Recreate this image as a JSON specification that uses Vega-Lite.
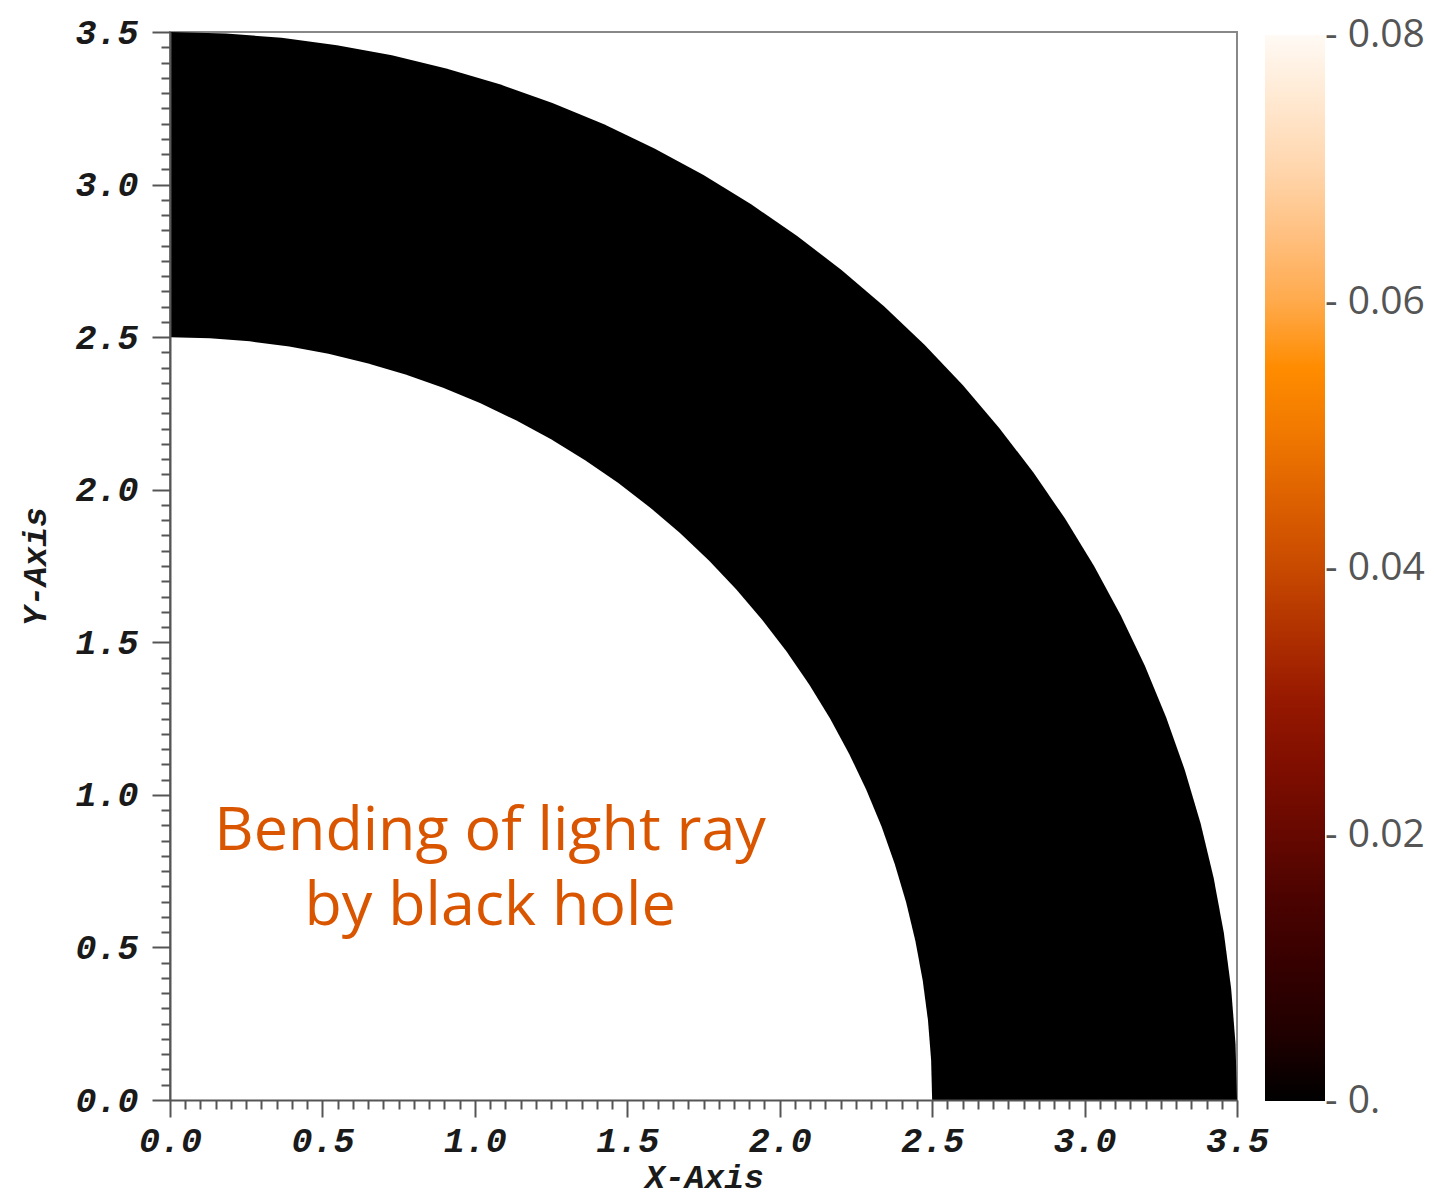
{
  "$schema": "https://vega.github.io/schema/vega-lite/v6.json",
  "autosize": "none",
  "padding": {"left": 170, "top": 32, "right": 197, "bottom": 97},
  "width": 1067,
  "height": 1068,
  "background": "white",
  "config": {
    "view": {"stroke": "#888888", "strokeWidth": 2},
    "axis": {
      "labelFont": "Liberation Mono",
      "labelFontWeight": "bold",
      "labelFontStyle": "italic",
      "labelFontSize": 35,
      "labelColor": "#1a1a1a",
      "labelFlush": false,
      "titleFont": "Liberation Mono",
      "titleFontWeight": "bold",
      "titleFontStyle": "italic",
      "titleFontSize": 33,
      "titleColor": "#1a1a1a",
      "tickColor": "#555555",
      "tickWidth": 2,
      "domainColor": "#555555",
      "domainWidth": 2,
      "grid": false
    }
  },
  "datasets": {
    "outer": [
      {"x": 0, "y": 3.5, "v": 0}, {"x": 0.1832, "y": 3.4952, "v": 0}, {"x": 0.3658, "y": 3.4808, "v": 0},
      {"x": 0.5475, "y": 3.4569, "v": 0}, {"x": 0.7277, "y": 3.4235, "v": 0}, {"x": 0.9059, "y": 3.3807, "v": 0},
      {"x": 1.0816, "y": 3.3287, "v": 0}, {"x": 1.2543, "y": 3.2675, "v": 0}, {"x": 1.4236, "y": 3.1974, "v": 0},
      {"x": 1.589, "y": 3.1185, "v": 0}, {"x": 1.75, "y": 3.0311, "v": 0}, {"x": 1.9062, "y": 2.9354, "v": 0},
      {"x": 2.0572, "y": 2.8316, "v": 0}, {"x": 2.2026, "y": 2.72, "v": 0}, {"x": 2.342, "y": 2.601, "v": 0},
      {"x": 2.4749, "y": 2.4749, "v": 0}, {"x": 2.601, "y": 2.342, "v": 0}, {"x": 2.72, "y": 2.2026, "v": 0},
      {"x": 2.8316, "y": 2.0572, "v": 0}, {"x": 2.9354, "y": 1.9062, "v": 0}, {"x": 3.0311, "y": 1.75, "v": 0},
      {"x": 3.1185, "y": 1.589, "v": 0}, {"x": 3.1974, "y": 1.4236, "v": 0}, {"x": 3.2675, "y": 1.2543, "v": 0},
      {"x": 3.3287, "y": 1.0816, "v": 0}, {"x": 3.3807, "y": 0.9059, "v": 0}, {"x": 3.4235, "y": 0.7277, "v": 0},
      {"x": 3.4569, "y": 0.5475, "v": 0}, {"x": 3.4808, "y": 0.3658, "v": 0}, {"x": 3.4952, "y": 0.1832, "v": 0},
      {"x": 3.5, "y": 0, "v": 0}
    ],
    "inner": [
      {"x": 0, "y": 2.5}, {"x": 0.1308, "y": 2.4966}, {"x": 0.2613, "y": 2.4863}, {"x": 0.3911, "y": 2.4692},
      {"x": 0.5198, "y": 2.4454}, {"x": 0.647, "y": 2.4148}, {"x": 0.7725, "y": 2.3776}, {"x": 0.8959, "y": 2.334},
      {"x": 1.0168, "y": 2.2839}, {"x": 1.135, "y": 2.2275}, {"x": 1.25, "y": 2.1651}, {"x": 1.3616, "y": 2.0967},
      {"x": 1.4695, "y": 2.0225}, {"x": 1.5733, "y": 1.9429}, {"x": 1.6728, "y": 1.8578}, {"x": 1.7678, "y": 1.7678},
      {"x": 1.8578, "y": 1.6728}, {"x": 1.9429, "y": 1.5733}, {"x": 2.0225, "y": 1.4695}, {"x": 2.0967, "y": 1.3616},
      {"x": 2.1651, "y": 1.25}, {"x": 2.2275, "y": 1.135}, {"x": 2.2839, "y": 1.0168}, {"x": 2.334, "y": 0.8959},
      {"x": 2.3776, "y": 0.7725}, {"x": 2.4148, "y": 0.647}, {"x": 2.4454, "y": 0.5198}, {"x": 2.4692, "y": 0.3911},
      {"x": 2.4863, "y": 0.2613}, {"x": 2.4966, "y": 0.1308}, {"x": 2.5, "y": 0}
    ],
    "note": [
      {"x": 1.05, "y": 0.82, "label": "Bending of light ray\nby black hole"}
    ]
  },
  "layer": [
    {
      "data": {"name": "outer"},
      "mark": {"type": "area", "interpolate": "linear"},
      "encoding": {
        "x": {
          "field": "x", "type": "quantitative",
          "scale": {"domain": [0, 3.5], "nice": false, "zero": false},
          "axis": {
            "values": [0, 0.5, 1, 1.5, 2, 2.5, 3, 3.5],
            "format": ".1f",
            "tickSize": 17,
            "labelPadding": 6,
            "title": "X-Axis",
            "titleX": 534,
            "titleY": 77,
            "titleBaseline": "middle",
            "titleAlign": "center",
            "zindex": 1
          }
        },
        "y": {
          "field": "y", "type": "quantitative",
          "scale": {"domain": [0, 3.5], "nice": false, "zero": false},
          "axis": {
            "values": [0, 0.5, 1, 1.5, 2, 2.5, 3, 3.5],
            "format": ".1f",
            "tickSize": 18,
            "labelPadding": 14,
            "title": "Y-Axis",
            "titleX": -135,
            "titleY": 534,
            "titleAngle": -90,
            "titleBaseline": "middle",
            "titleAlign": "center",
            "zindex": 1
          }
        },
        "color": {
          "field": "v", "type": "quantitative",
          "scale": {
            "type": "linear",
            "domain": [0, 0.005, 0.01, 0.015, 0.02, 0.025, 0.03, 0.035, 0.04, 0.045, 0.05, 0.055, 0.06, 0.065, 0.07, 0.075, 0.08],
            "range": ["#000000", "#200000", "#350000", "#4a0300", "#660800", "#7f0e00", "#961800", "#b03000", "#c84a00", "#dd6000", "#f07800", "#ff8c00", "#ffaa4c", "#ffc080", "#ffd6ad", "#ffe8d0", "#fffaf5"],
            "interpolate": "rgb"
          },
          "legend": {
            "type": "gradient",
            "direction": "vertical",
            "orient": "none",
            "legendX": 1095,
            "legendY": 3,
            "padding": 0,
            "title": null,
            "gradientLength": 1066,
            "gradientThickness": 60,
            "gradientStrokeWidth": 0,
            "values": [0, 0.02, 0.04, 0.06, 0.08],
            "labelExpr": "'- ' + (datum.value == 0 ? '0.' : format(datum.value, '.2f'))",
            "labelFont": "Open Sans",
            "labelFontSize": 39,
            "labelColor": "#555555",
            "labelOffset": 0,
            "labelBaseline": "middle",
            "labelOverlap": false,
            "encode": {
              "labels": {"update": {"baseline": {"value": "middle"}}}
            }
          }
        }
      }
    },
    {
      "data": {"name": "inner"},
      "mark": {"type": "area", "fill": "white", "interpolate": "linear"},
      "encoding": {
        "x": {"field": "x", "type": "quantitative", "axis": null},
        "y": {"field": "y", "type": "quantitative", "axis": null}
      }
    },
    {
      "data": {"name": "note"},
      "mark": {"type": "text", "font": "Open Sans", "fontSize": 61, "color": "#d95500", "align": "center", "baseline": "alphabetic", "lineBreak": "\n", "lineHeight": 75},
      "encoding": {
        "x": {
          "field": "x", "type": "quantitative",
          "axis": {
            "orient": "bottom",
            "values": [0.05, 0.1, 0.15, 0.2, 0.25, 0.3, 0.35, 0.4, 0.45, 0.55, 0.6, 0.65, 0.7, 0.75, 0.8, 0.85, 0.9, 0.95, 1.05, 1.1, 1.15, 1.2, 1.25, 1.3, 1.35, 1.4, 1.45, 1.55, 1.6, 1.65, 1.7, 1.75, 1.8, 1.85, 1.9, 1.95, 2.05, 2.1, 2.15, 2.2, 2.25, 2.3, 2.35, 2.4, 2.45, 2.55, 2.6, 2.65, 2.7, 2.75, 2.8, 2.85, 2.9, 2.95, 3.05, 3.1, 3.15, 3.2, 3.25, 3.3, 3.35, 3.4, 3.45],
            "tickSize": 9,
            "labels": false,
            "domain": false,
            "title": null,
            "zindex": 1
          }
        },
        "y": {
          "field": "y", "type": "quantitative",
          "axis": {
            "orient": "left",
            "values": [0.05, 0.1, 0.15, 0.2, 0.25, 0.3, 0.35, 0.4, 0.45, 0.55, 0.6, 0.65, 0.7, 0.75, 0.8, 0.85, 0.9, 0.95, 1.05, 1.1, 1.15, 1.2, 1.25, 1.3, 1.35, 1.4, 1.45, 1.55, 1.6, 1.65, 1.7, 1.75, 1.8, 1.85, 1.9, 1.95, 2.05, 2.1, 2.15, 2.2, 2.25, 2.3, 2.35, 2.4, 2.45, 2.55, 2.6, 2.65, 2.7, 2.75, 2.8, 2.85, 2.9, 2.95, 3.05, 3.1, 3.15, 3.2, 3.25, 3.3, 3.35, 3.4, 3.45],
            "tickSize": 9,
            "labels": false,
            "domain": false,
            "title": null,
            "zindex": 1
          }
        },
        "text": {"field": "label", "type": "nominal"}
      }
    }
  ],
  "resolve": {"axis": {"x": "independent", "y": "independent"}}
}
